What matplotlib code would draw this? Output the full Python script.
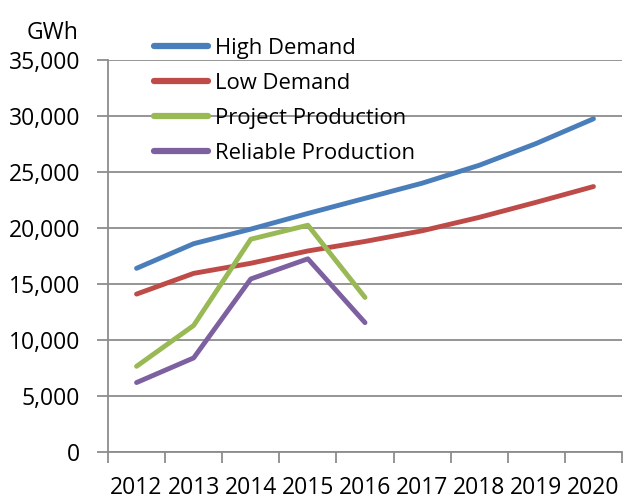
import matplotlib
matplotlib.use("Agg")
import matplotlib.pyplot as plt
import numpy as np

plt.rcParams["font.family"] = ["Open Sans", "DejaVu Sans"]

# Data (GWh)
years = ["2012", "2013", "2014", "2015", "2016", "2017", "2018", "2019", "2020"]
high_demand = [16400, 18600, 19900, 21300, 22650, 24000, 25600, 27550, 29750]
low_demand = [14100, 15950, 16850, 17950, 18800, 19750, 20950, 22300, 23700]
project_production = [7650, 11300, 19000, 20250, 13800]
reliable_production = [6200, 8400, 15450, 17250, 11550]

series = [
    ("High Demand", high_demand, "#4A7EBB"),
    ("Low Demand", low_demand, "#BE4B48"),
    ("Project Production", project_production, "#98B954"),
    ("Reliable Production", reliable_production, "#7D60A0"),
]

grid_col = "#8C8C8C"
fs = 16.5

fig = plt.figure(figsize=(6.3, 5.01), dpi=100)
ax = fig.add_axes([108 / 630, 49 / 501, 514 / 630, 392 / 501])

centers = np.arange(len(years)) + 0.5
for name, vals, col in series:
    ax.plot(centers[:len(vals)], vals, color=col, lw=3.5, label=name,
            solid_capstyle="round", solid_joinstyle="round", zorder=3)

ax.set_xlim(0, len(years))
ax.set_ylim(0, 35000)
ax.set_yticks(np.arange(0, 35001, 5000))
ax.set_yticklabels([f"{v:,}" for v in range(0, 35001, 5000)])

# category axis: ticks between categories, labels at centers
ax.set_xticks(np.arange(0, len(years) + 1))
ax.set_xticklabels([])
ax.set_xticks(centers, minor=True)
ax.set_xticklabels(years, minor=True)
ax.tick_params(axis="x", which="minor", length=0, pad=17, labelsize=fs)
ax.tick_params(axis="x", which="major", length=8, width=1.3, color=grid_col, direction="out")
ax.tick_params(axis="y", length=8, width=1.3, color=grid_col, direction="out",
               labelsize=fs, pad=12)

ax.grid(axis="y", color=grid_col, lw=1.3, zorder=0)
ax.set_axisbelow(True)
for s in ("top", "right"):
    ax.spines[s].set_visible(False)
for s in ("left", "bottom"):
    ax.spines[s].set_color(grid_col)
    ax.spines[s].set_linewidth(1.3)

fig.text(78 / 630, 1 - 33 / 501, "GWh", fontsize=fs, ha="right", va="center")

leg = ax.legend(loc="upper left", bbox_to_anchor=(134 / 630, 1 - 18 / 501),
                bbox_transform=fig.transFigure, frameon=False, fontsize=15.8,
                handlelength=2.45, handletextpad=0.35, labelspacing=0.64)
for h in leg.get_lines():
    h.set_linewidth(4.5)

fig.savefig("out.png", dpi=100)
